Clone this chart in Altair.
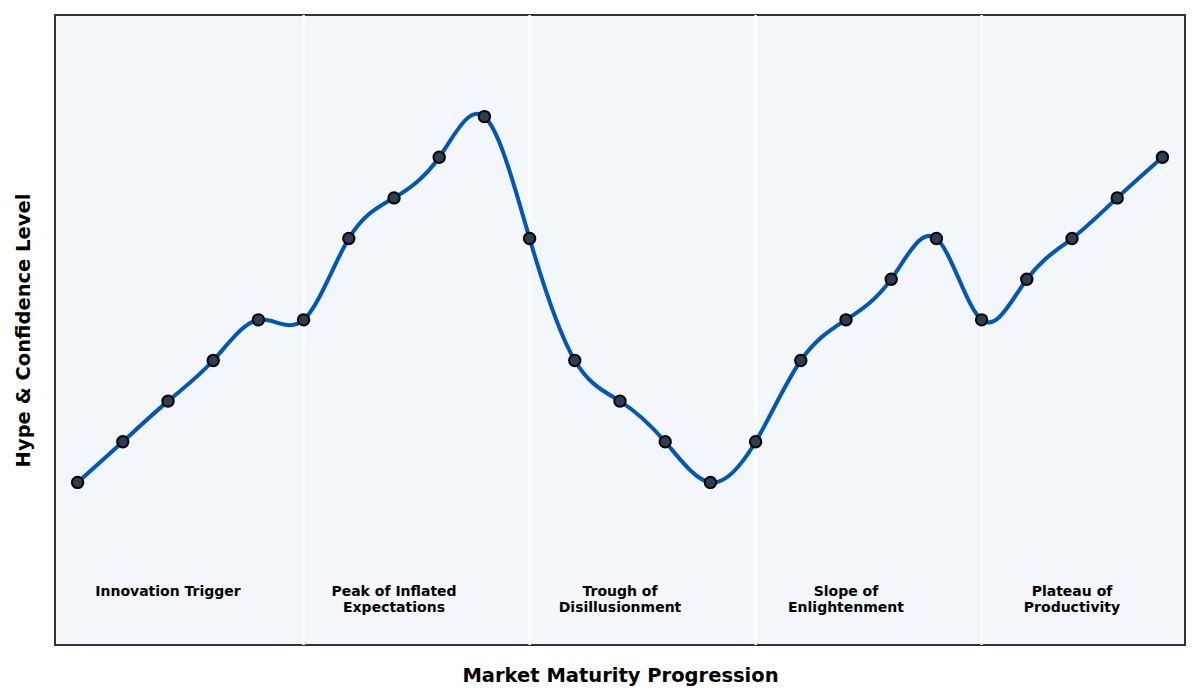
import altair as alt
import pandas as pd

# Data
stage_index = list(range(25))
hype_level = [4, 5, 6, 7, 8, 8, 10, 11, 12, 13, 10, 7, 6, 5, 4, 5, 7, 8, 9, 10, 8, 9, 10, 11, 12]

phase_boundaries = [5, 10, 15, 20]
phase_centers = [2, 7, 12, 17, 22]
phase_labels = [
    "Innovation Trigger",
    "Peak of Inflated\nExpectations",
    "Trough of\nDisillusionment",
    "Slope of\nEnlightenment",
    "Plateau of\nProductivity",
]
label_y = [1.5] * 5

df = pd.DataFrame({"x": stage_index, "y": hype_level})
df_b = pd.DataFrame({"x": phase_boundaries})
df_l = pd.DataFrame({"x": phase_centers, "y": label_y, "label": phase_labels})

xscale = alt.Scale(domain=[-0.5, 24.5], nice=False, zero=False)
yscale = alt.Scale(domain=[0, 15.5], nice=False, zero=False)

xaxis = alt.Axis(title="Market Maturity Progression", labels=False, ticks=False, domain=False,
                 grid=False, titleFont="DejaVu Sans", titleFontSize=19.5, titleFontWeight="bold",
                 titleColor="#000000", titlePadding=21)
yaxis = alt.Axis(title="Hype & Confidence Level", labels=False, ticks=False, domain=False,
                 grid=False, titleFont="DejaVu Sans", titleFontSize=19.5, titleFontWeight="bold",
                 titleColor="#000000", titlePadding=22)

rules = alt.Chart(df_b).mark_rule(color="white", strokeWidth=2.5).encode(
    x=alt.X("x:Q", scale=xscale, axis=xaxis)
)

line = alt.Chart(df).mark_line(color="#0057b8", strokeWidth=4, interpolate="natural").encode(
    x=alt.X("x:Q", scale=xscale, axis=xaxis),
    y=alt.Y("y:Q", scale=yscale, axis=yaxis),
)

points = alt.Chart(df).mark_point(filled=True, fill="#2c3e50", stroke="#000000", strokeWidth=2,
                                  size=130, opacity=1, shape="circle").encode(
    x=alt.X("x:Q", scale=xscale, axis=xaxis),
    y=alt.Y("y:Q", scale=yscale, axis=yaxis),
)

labels = alt.Chart(df_l).mark_text(font="DejaVu Sans", fontSize=14, fontWeight="bold", color="#000000",
                                   baseline="top", align="center", lineBreak="\n", lineHeight=16,
                                   dy=1).encode(
    x=alt.X("x:Q", scale=xscale, axis=xaxis),
    y=alt.Y("y:Q", scale=yscale, axis=yaxis),
    text="label:N",
)

chart = alt.layer(rules, line, points, labels).properties(
    width=1130,
    height=630,
    autosize=alt.AutoSizeParams(type="none"),
    padding={"left": 47, "top": 7, "right": 7, "bottom": 47},
    background="white",
).configure_view(
    fill="#f3f6fa", stroke="#333333", strokeWidth=2
)

chart.save("out.html", embed_options={"renderer": "svg", "actions": False})
